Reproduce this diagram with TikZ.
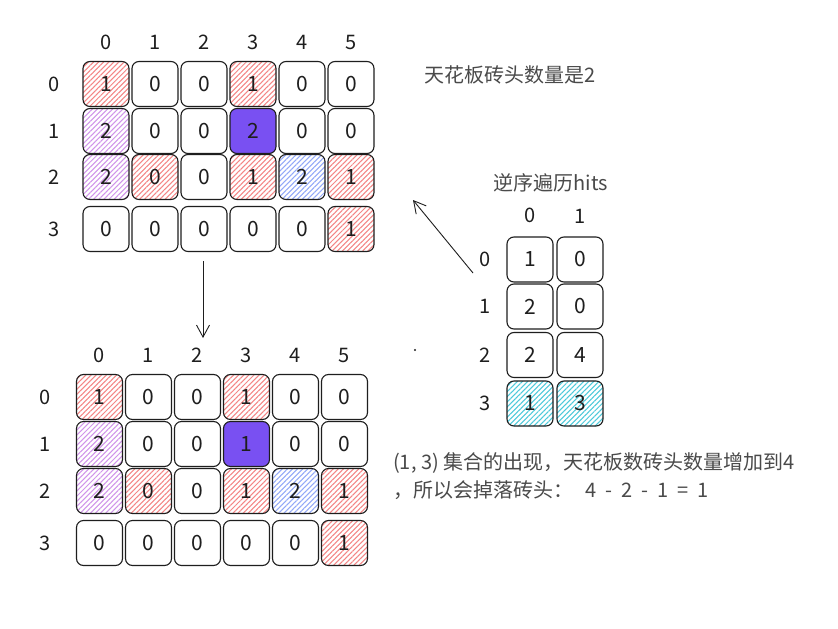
\documentclass[tikz,border=0pt]{standalone}
\usepackage{fontspec}
\setmainfont{Noto Sans CJK SC}
\usetikzlibrary{positioning,arrows.meta,patterns.meta}
\definecolor{ink}{HTML}{1E1E1E}
\definecolor{note}{HTML}{4A4A4A}
\definecolor{hred}{HTML}{F48585}
\definecolor{hpurple}{HTML}{D094EA}
\definecolor{hblue}{HTML}{92A8F8}
\definecolor{hcyan}{HTML}{4CC9DA}
\definecolor{violet}{HTML}{7950F2}

\begin{document}
\begin{tikzpicture}[
  x=1pt, y=-1pt,
  cell/.style={draw=ink, line width=1.1pt, rounded corners=7pt, minimum width=46pt, minimum height=45pt, inner sep=0pt, text=ink, font=\fontsize{21}{22}\selectfont},
  lbl/.style={text=ink, inner sep=0pt, font=\fontsize{20}{22}\selectfont},
  txt/.style={text=note, inner sep=0pt, font=\fontsize{20}{28}\selectfont},
  blank/.style={fill=white},
  redh/.style={pattern={Lines[angle=45,distance=3.6pt,line width=1.05pt]}, pattern color=hred},
  purh/.style={pattern={Lines[angle=45,distance=3.6pt,line width=1.05pt]}, pattern color=hpurple},
  blueh/.style={pattern={Lines[angle=45,distance=3.6pt,line width=1.05pt]}, pattern color=hblue},
  cyanh/.style={pattern={Lines[angle=45,distance=3.6pt,line width=1.05pt]}, pattern color=hcyan},
  solid/.style={fill=violet},
  arrow/.style={-{Straight Barb[length=12pt,width=13pt]}, line width=0.9pt, draw=ink}
]
\useasboundingbox[fill=white] (0,0) rectangle (838,629);

% grid before
\foreach \r/\c/\v/\s in {0/0/1/redh, 0/1/0/blank, 0/2/0/blank, 0/3/1/redh, 0/4/0/blank, 0/5/0/blank,
    1/0/2/purh, 1/1/0/blank, 1/2/0/blank, 1/3/2/solid, 1/4/0/blank, 1/5/0/blank,
    2/0/2/purh, 2/1/0/redh, 2/2/0/blank, 2/3/1/redh, 2/4/2/blueh, 2/5/1/redh,
    3/0/0/blank, 3/1/0/blank, 3/2/0/blank, 3/3/0/blank, 3/4/0/blank, 3/5/1/redh}{
  \pgfmathsetmacro\yy{{84,131,177,229}[\r]}
  \node[cell, \s] (t-\r-\c) at (106+49*\c, \yy) {\v};
}
\foreach \c in {0,...,5} \node[lbl, above=11pt of t-0-\c] {\c};
\foreach \r in {0,...,3} \node[lbl, left=23pt of t-\r-0] {\r};

% grid after
\foreach \r/\c/\v/\s in {0/0/1/redh, 0/1/0/blank, 0/2/0/blank, 0/3/1/redh, 0/4/0/blank, 0/5/0/blank,
    1/0/2/purh, 1/1/0/blank, 1/2/0/blank, 1/3/1/solid, 1/4/0/blank, 1/5/0/blank,
    2/0/2/purh, 2/1/0/redh, 2/2/0/blank, 2/3/1/redh, 2/4/2/blueh, 2/5/1/redh,
    3/0/0/blank, 3/1/0/blank, 3/2/0/blank, 3/3/0/blank, 3/4/0/blank, 3/5/1/redh}{
  \pgfmathsetmacro\yy{{397,444,491,543}[\r]}
  \node[cell, \s] (b-\r-\c) at (99.5+49*\c, \yy) {\v};
}
\foreach \c in {0,...,5} \node[lbl, above=11pt of b-0-\c] {\c};
\foreach \r in {0,...,3} \node[lbl, left=25pt of b-\r-0] {\r};

% hits
\foreach \r/\c/\v/\s in {0/0/1/blank, 0/1/0/blank, 1/0/2/blank, 1/1/0/blank,
    2/0/2/blank, 2/1/4/blank, 3/0/1/cyanh, 3/1/3/cyanh}{
  \pgfmathsetmacro\yy{{259.5,306.5,355,403.5}[\r]}
  \node[cell, \s] (h-\r-\c) at (530+50*\c, \yy) {\v};
}
\foreach \c in {0,...,1} \node[lbl, above=13pt of h-0-\c] {\c};
\foreach \r in {0,...,3} \node[lbl, left=16pt of h-\r-0] {\r};

\node[txt] (hits) at (551,183) {逆序遍历hits};
\node[txt, anchor=west] (ceil) at (424,75) {天花板砖头数量是2};
\node[txt, anchor=north west, align=left] (sum) at (393,452)
  {(1, 3) 集合的出现，天花板数砖头数量增加到4\\，所以会掉落砖头：\hspace{12pt}4\ \ -\ \ 2\ \ -\ \ 1\ \ =\ \ 1};

\coordinate (down-a) at (203,261);
\coordinate (down-b) at (203,338);
\coordinate (back-a) at (473,273);
\coordinate (back-b) at (413,200);
\draw[arrow] (down-a) -- (down-b);
\draw[arrow] (back-a) -- (back-b);
\fill[ink] (415,350) circle (1.2pt);
\end{tikzpicture}
\end{document}
